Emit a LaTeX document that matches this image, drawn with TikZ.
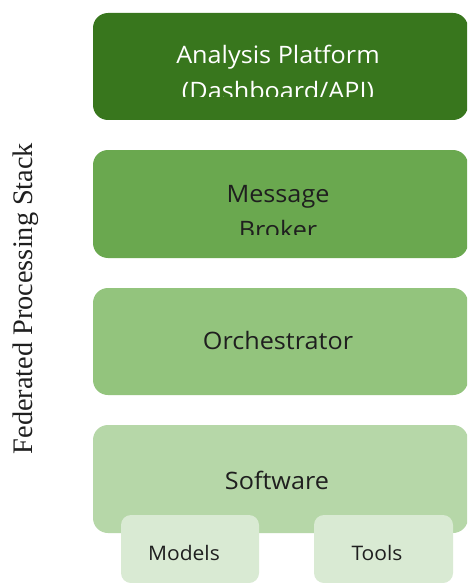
\documentclass[tikz,border=0pt]{standalone}
\usepackage{fontspec}
\setmainfont{Open Sans}[FakeStretch=1.05]
\newfontfamily\serifl{Liberation Serif}
\definecolor{gA}{HTML}{38761D}
\definecolor{gB}{HTML}{6AA84F}
\definecolor{gC}{HTML}{93C47D}
\definecolor{gD}{HTML}{B6D7A8}
\definecolor{gE}{HTML}{D9EAD3}
\definecolor{txt}{HTML}{1F1F1F}
\tikzset{
  layer/.style={rounded corners=15pt},
  lbl/.style={font=\fontsize{24}{30}\selectfont, anchor=base, inner sep=0pt},
  sub/.style={font=\fontsize{20}{24}\selectfont, text=txt, anchor=base, inner sep=0pt},
}
\begin{document}
\begin{tikzpicture}[x=1pt,y=-1pt]
\useasboundingbox[fill=white] (0,0) rectangle (467,583);
\begin{scope}
\clip (0,0) rectangle (467,583);
% layers
\fill[gA,layer] (93,13) rectangle (468,120);
\fill[gB,layer] (93,150) rectangle (468,258);
\fill[gC,layer] (93,288) rectangle (468,395);
\fill[gD,layer] (93,425) rectangle (468,533);
\begin{scope}
\clip (93,36) rectangle (467,97);
\node[lbl,text=white] (t1a) at (278,64) {Analysis Platform};
\node[lbl,text=white] (t1b) at (278,99.5) {(Dashboard/API)};
\end{scope}
\begin{scope}
\clip (93,173) rectangle (467,234);
\node[lbl,text=txt] (t2a) at (278,202) {Message};
\node[lbl,text=txt] (t2b) at (278,238) {Broker};
\end{scope}
\node[lbl,text=txt] (t3) at (278,349) {Orchestrator};
\node[lbl,text=txt] (t4) at (277,489) {Software};
% sub boxes
\fill[gE,rounded corners=10pt] (121,515) rectangle (259,583);
\fill[gE,rounded corners=10pt] (314,515) rectangle (453,583);
\node[sub] (m) at (184,560) {Models};
\node[sub] (t) at (377,560) {Tools};
\end{scope}
\node[rotate=90, anchor=base, font=\serifl\fontsize{28.3}{32}\selectfont, text=txt, inner sep=0pt] (side) at (32,298.5) {Federated Processing Stack};
\end{tikzpicture}
\end{document}
